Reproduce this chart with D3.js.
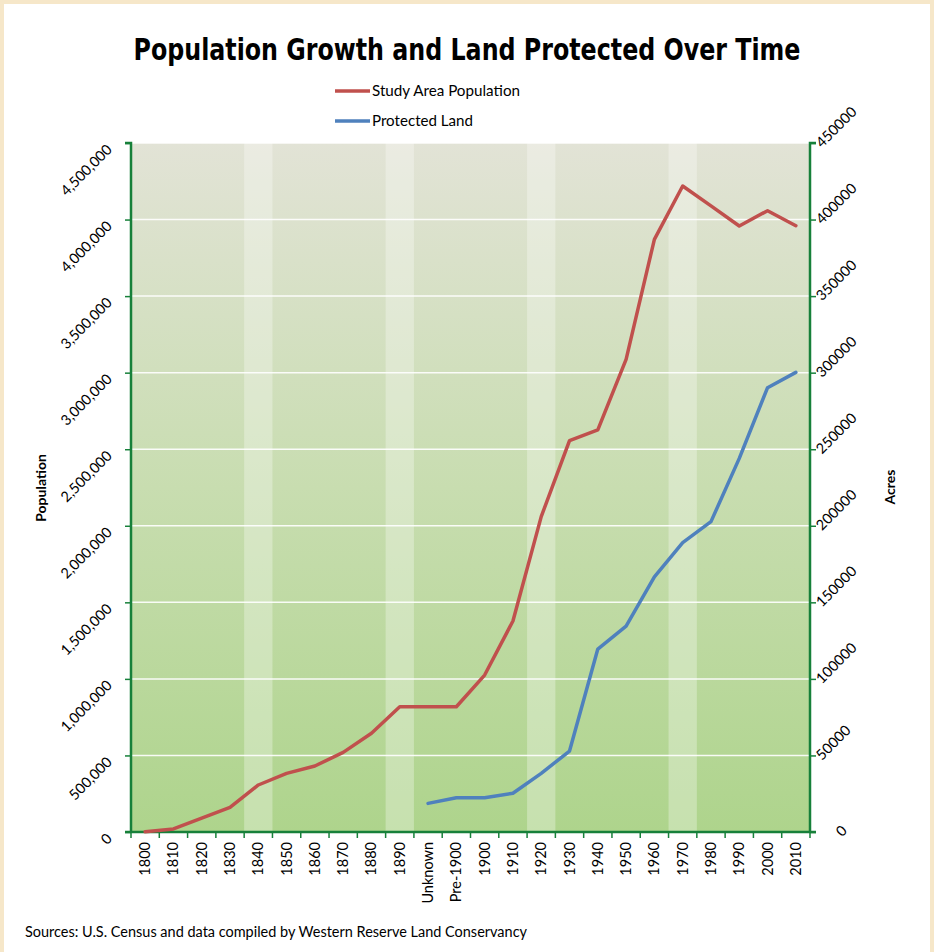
<!DOCTYPE html>
<html>
<head>
<meta charset="utf-8">
<script src="https://cdn.jsdelivr.net/npm/d3@7"></script>
<style>
  body { margin: 0; padding: 0; background: #fff; }
  svg { display: block; }
  text { font-family: Lato, "Open Sans", sans-serif; fill: #000; }
</style>
</head>
<body>
<div id="chart"></div>
<script>
const categories = ["1800","1810","1820","1830","1840","1850","1860","1870","1880","1890",
  "Unknown","Pre-1900","1900","1910","1920","1930","1940","1950","1960","1970","1980","1990","2000","2010"];
const population = [1000, 20000, 90000, 161000, 307000, 383000, 431000, 520000, 645000, 818000,
  818000, 818000, 1025000, 1378000, 2060000, 2556000, 2626000, 3087000, 3871000, 4219000,
  4089000, 3958000, 4058000, 3960000];
const acres = [null, null, null, null, null, null, null, null, null, null,
  18700, 22400, 22400, 25300, 38300, 52900, 119500, 134500, 166700, 189000,
  202700, 244000, 290200, 300200];
const highlighted = ["1840", "1890", "1920", "1970"];
const popTicks = [0, 500000, 1000000, 1500000, 2000000, 2500000, 3000000, 3500000, 4000000, 4500000];
const acreTicks = [0, 50000, 100000, 150000, 200000, 250000, 300000, 350000, 400000, 450000];

const W = 934, H = 952;
const m = { left: 131, right: 810, top: 143, bottom: 832 };

const svg = d3.select("#chart").append("svg").attr("width", W).attr("height", H);

// frame
svg.append("rect").attr("width", W).attr("height", H).attr("fill", "#f6e7c9");
svg.append("rect").attr("x", 4).attr("y", 4).attr("width", W - 8).attr("height", H - 4).attr("fill", "#fff");

const defs = svg.append("defs");
const grad = defs.append("linearGradient").attr("id", "bg").attr("x1", 0).attr("y1", 0).attr("x2", 0).attr("y2", 1);
grad.append("stop").attr("offset", "0%").attr("stop-color", "#e2e3d6");
grad.append("stop").attr("offset", "50%").attr("stop-color", "#c8ddb0");
grad.append("stop").attr("offset", "100%").attr("stop-color", "#aed48c");

const x = d3.scaleBand().domain(categories).range([m.left, m.right]).padding(0);
const yL = d3.scaleLinear().domain([0, 4500000]).range([m.bottom, m.top]);
const yR = d3.scaleLinear().domain([0, 450000]).range([m.bottom, m.top]);

// plot background
svg.append("rect").attr("x", m.left).attr("y", m.top)
  .attr("width", m.right - m.left).attr("height", m.bottom - m.top).attr("fill", "url(#bg)");

// highlight bands
svg.append("g").selectAll("rect").data(highlighted).join("rect")
  .attr("x", d => x(d)).attr("y", m.top)
  .attr("width", x.bandwidth()).attr("height", m.bottom - m.top)
  .attr("fill", "#ffffff").attr("fill-opacity", 0.3);

// gridlines
svg.append("g").selectAll("line").data(popTicks.slice(1)).join("line")
  .attr("x1", m.left).attr("x2", m.right)
  .attr("y1", d => yL(d)).attr("y2", d => yL(d))
  .attr("stroke", "#ffffff").attr("stroke-width", 1.5).attr("stroke-opacity", 0.9);

// title
svg.append("text").attr("x", 467).attr("y", 60).attr("text-anchor", "middle")
  .attr("font-weight", "bold").attr("font-size", 31)
  .attr("textLength", 667).attr("lengthAdjust", "spacingAndGlyphs")
  .style("font-family", "'DejaVu Sans Condensed', 'DejaVu Sans', sans-serif")
  .text("Population Growth and Land Protected Over Time");

// legend
const legend = [
  { name: "Study Area Population", color: "#c0504d", y: 91, len: 148 },
  { name: "Protected Land", color: "#4f81bd", y: 121, len: 101 }
];
const lg = svg.append("g").selectAll("g").data(legend).join("g");
lg.append("line").attr("x1", 335).attr("x2", 370).attr("y1", d => d.y).attr("y2", d => d.y)
  .attr("stroke", d => d.color).attr("stroke-width", 3.5);
lg.append("text").attr("x", 372).attr("y", d => d.y + 5).attr("font-size", 15)
  .attr("textLength", d => d.len).attr("lengthAdjust", "spacingAndGlyphs")
  .text(d => d.name);

// axes
const axisColor = "#17803a";
const gL = svg.append("g").attr("transform", `translate(${m.left},0)`)
  .call(d3.axisLeft(yL).tickValues(popTicks).tickSize(6).tickFormat(d3.format(",")));
gL.select(".domain").attr("stroke", axisColor).attr("stroke-width", 2.5).attr("d", `M-6,${m.top}H0V${m.bottom + 1}`);
gL.selectAll(".tick line").attr("stroke", axisColor).attr("stroke-width", 1.5);
gL.selectAll(".tick text")
  .attr("font-size", 14.5).attr("font-family", "Lato, sans-serif")
  .attr("text-anchor", "end").attr("x", null).attr("dy", null)
  .attr("transform", "translate(-18,7) rotate(-45)");

const gR = svg.append("g").attr("transform", `translate(${m.right},0)`)
  .call(d3.axisRight(yR).tickValues(acreTicks).tickSize(6).tickFormat(d3.format("d")));
gR.select(".domain").attr("stroke", axisColor).attr("stroke-width", 2.5).attr("d", `M6,${m.top}H0V${m.bottom + 1}`);
gR.selectAll(".tick line").attr("stroke", axisColor).attr("stroke-width", 1.5);
gR.selectAll(".tick text")
  .attr("font-size", 14.5).attr("font-family", "Lato, sans-serif")
  .attr("text-anchor", "start").attr("x", null).attr("dy", null)
  .attr("transform", "translate(12,5) rotate(-45)");
gR.selectAll(".tick").filter(d => d === 0).select("text")
  .attr("transform", "translate(32,5) rotate(-45)");

const gX = svg.append("g").attr("transform", `translate(0,${m.bottom})`)
  .call(d3.axisBottom(x).tickSize(0));
gX.select(".domain").attr("stroke", axisColor).attr("stroke-width", 2.5).attr("d", `M${m.left - 6},0H${m.right + 6}`);
gX.selectAll(".tick text")
  .attr("font-size", 14.5).attr("font-family", "Lato, sans-serif")
  .attr("text-anchor", "end").attr("y", null).attr("dy", null)
  .attr("transform", "translate(5,10) rotate(-90)");
// band boundary ticks
svg.append("g").selectAll("line").data(categories.concat(["__end"])).join("line")
  .attr("x1", (d, i) => m.left + i * x.bandwidth()).attr("x2", (d, i) => m.left + i * x.bandwidth())
  .attr("y1", m.bottom).attr("y2", m.bottom + 6)
  .attr("stroke", axisColor).attr("stroke-width", 1.5);

// axis titles
svg.append("text").attr("transform", "translate(46,488) rotate(-90)").attr("text-anchor", "middle")
  .attr("font-weight", "bold").attr("font-size", 14).text("Population");
svg.append("text").attr("transform", "translate(895,487) rotate(-90)").attr("text-anchor", "middle")
  .attr("font-weight", "bold").attr("font-size", 14).text("Acres");

// lines
const cx = d => x(d) + x.bandwidth() / 2;
const popLine = d3.line().x((d, i) => cx(categories[i])).y(d => yL(d));
const acreLine = d3.line().defined(d => d !== null).x((d, i) => cx(categories[i])).y(d => yR(d));

svg.append("path").datum(population).attr("d", popLine)
  .attr("fill", "none").attr("stroke", "#c0504d").attr("stroke-width", 3.5)
  .attr("stroke-linejoin", "round").attr("stroke-linecap", "round");
svg.append("path").datum(acres).attr("d", acreLine)
  .attr("fill", "none").attr("stroke", "#4f81bd").attr("stroke-width", 3.5)
  .attr("stroke-linejoin", "round").attr("stroke-linecap", "round");

// source
svg.append("text").attr("x", 25).attr("y", 937).attr("font-size", 14.5)
  .attr("textLength", 502).attr("lengthAdjust", "spacingAndGlyphs")
  .text("Sources: U.S. Census and data compiled by Western Reserve Land Conservancy");
</script>
</body>
</html>
